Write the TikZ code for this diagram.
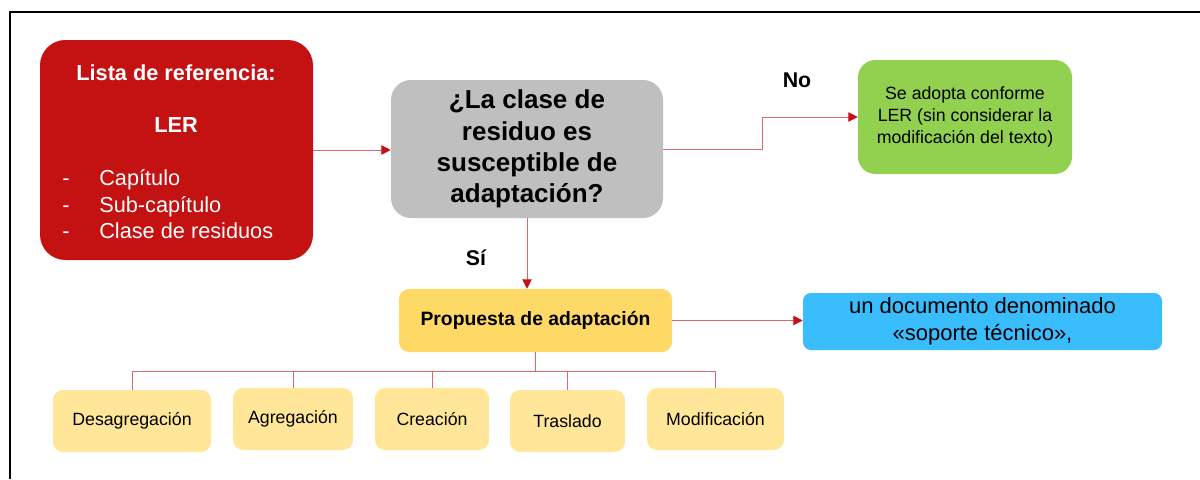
\documentclass[tikz,border=0pt]{standalone}
\usepackage{fontspec}
\setmainfont{Liberation Sans}
\usetikzlibrary{arrows.meta}
\definecolor{lerred}{HTML}{C41111}
\definecolor{qgray}{HTML}{BFBFBF}
\definecolor{okgreen}{HTML}{92D050}
\definecolor{propyellow}{HTML}{FFD966}
\definecolor{subyellow}{HTML}{FFE699}
\definecolor{docblue}{HTML}{3ABDFD}
\definecolor{linkred}{HTML}{E0666E}
\definecolor{tipred}{HTML}{C80F14}
\begin{document}
\begin{tikzpicture}[x=0.75pt,y=-0.75pt]
    \tikzstyle{box}=[rounded corners=7.5pt, inner sep=0pt, align=center, text=black]
    \tikzstyle{sub}=[box, fill=subyellow, minimum height=46.5pt, font=\fontsize{13.3}{16}\selectfont]
    \tikzstyle{link}=[draw=linkred, line width=0.75pt]
    \tikzstyle{arr}=[link, -{Triangle[length=7pt,width=7pt,color=tipred]}]
    \tikzstyle{white}=[text=white, inner sep=0pt]
    \useasboundingbox (0,0) rectangle (1200,479);
    \draw[line width=1.5pt] (1200,12) -- (10,12) -- (10,479);
    % lista de referencia
    \node[box, rounded corners=19pt, fill=lerred, minimum width=204.75pt, minimum height=165pt] (lista) at (176.5,150) {};
    \node[white, anchor=base, font=\bfseries\fontsize{16.3}{19.5}\selectfont] (ltitle) at (176,80) {Lista de referencia:};
    \node[white, anchor=base, font=\bfseries\fontsize{16.3}{19.5}\selectfont] (ler) at (176,132) {LER};
    \node[white, anchor=base west, font=\fontsize{16.3}{19.5}\selectfont] (d1) at (62,185) {-};
    \node[white, anchor=base west, font=\fontsize{16.3}{19.5}\selectfont] (d2) at (62,212) {-};
    \node[white, anchor=base west, font=\fontsize{16.3}{19.5}\selectfont] (d3) at (62,238) {-};
    \node[white, anchor=base west, font=\fontsize{16.3}{19.5}\selectfont] (i1) at (99,185) {Capítulo};
    \node[white, anchor=base west, font=\fontsize{16.3}{19.5}\selectfont] (i2) at (99,212) {Sub-capítulo};
    \node[white, anchor=base west, font=\fontsize{16.3}{19.5}\selectfont] (i3) at (99,238) {Clase de residuos};
    % pregunta y salidas
    \node[box, rounded corners=15pt, fill=qgray, minimum width=204pt, minimum height=103.5pt, font=\bfseries\fontsize{19.5}{23.5}\selectfont] (q) at (527,149) {¿La clase de\\residuo es\\susceptible de\\adaptación?};
    \node[box, rounded corners=13pt, fill=okgreen, minimum width=160.5pt, minimum height=85.5pt, font=\fontsize{13.3}{16.2}\selectfont] (adopt) at (965,117) {Se adopta conforme\\LER (sin considerar la\\modificación del texto)};
    \node[box, fill=propyellow, minimum width=204.75pt, minimum height=47.25pt, font=\bfseries\fontsize{14.5}{17}\selectfont] (prop) at (535.5,320.5) {Propuesta de adaptación};
    \node[box, rounded corners=6pt, fill=docblue, minimum width=269.25pt, minimum height=42.75pt, font=\fontsize{16.5}{20.5}\selectfont] (doc) at (982.5,321.5) {un documento denominado\\«soporte técnico»,};
    \node[font=\bfseries\fontsize{16}{19}\selectfont] (no) at (797,80) {No};
    \node[font=\bfseries\fontsize{16}{19}\selectfont] (si) at (476,258) {Sí};
    % tipos de adaptacion
    \node[sub, minimum width=118.5pt] (desag) at (132,421) {Desagregación};
    \node[sub, minimum width=90pt] (agreg) at (293,419) {Agregación};
    \node[sub, minimum width=85.5pt] (crea) at (432,419) {Creación};
    \node[sub, minimum width=86.25pt] (tras) at (567.5,421) {Traslado};
    \node[sub, minimum width=102.75pt] (modif) at (715.5,419) {Modificación};
    \coordinate (bus) at (535.5,371);
    \draw[arr] (lista.east) -- (q.west |- lista.east);
    \draw[arr] (q.east) -- ++(99,0) |- (adopt.west);
    \draw[arr] (q.south) -- (q.south |- prop.north);
    \draw[arr] (prop.east) -- (doc.west |- prop.east);
    \draw[link] (prop.south) -- (bus);
    \foreach \n in {desag,agreg,crea,tras,modif}
        \draw[link] (bus) -| (\n.north);
\end{tikzpicture}
\end{document}
